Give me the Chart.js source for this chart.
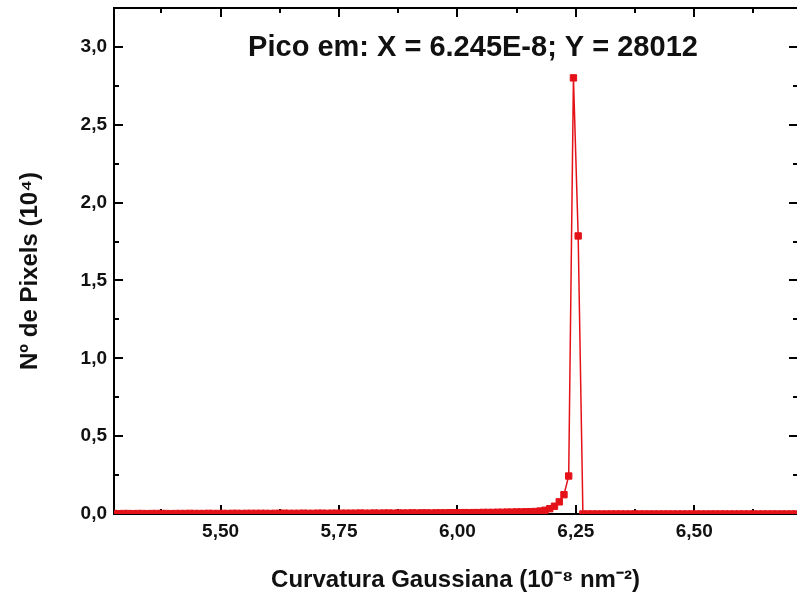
<!DOCTYPE html>
<html>
<head>
<meta charset="utf-8">
<script src="https://cdn.jsdelivr.net/npm/chart.js@4"></script>
<style>
  html, body { margin: 0; padding: 0; background: #fff; overflow: hidden; }
  #wrap { width: 797px; height: 600px; }
</style>
</head>
<body>
<div id="wrap"><canvas id="chHisto" width="797" height="600"></canvas></div>
<script>
// =========================
// DATA
// =========================
// centro de cada bin, em 10^-8 nm^-2
const curvatura = [
  5.275,5.285,5.295,5.305,5.315,5.325,5.335,5.345,5.355,5.365,
  5.375,5.385,5.395,5.405,5.415,5.425,5.435,5.445,5.455,5.465,
  5.475,5.485,5.495,5.505,5.515,5.525,5.535,5.545,5.555,5.565,
  5.575,5.585,5.595,5.605,5.615,5.625,5.635,5.645,5.655,5.665,
  5.675,5.685,5.695,5.705,5.715,5.725,5.735,5.745,5.755,5.765,
  5.775,5.785,5.795,5.805,5.815,5.825,5.835,5.845,5.855,5.865,
  5.875,5.885,5.895,5.905,5.915,5.925,5.935,5.945,5.955,5.965,
  5.975,5.985,5.995,6.005,6.015,6.025,6.035,6.045,6.055,6.065,
  6.075,6.085,6.095,6.105,6.115,6.125,6.135,6.145,6.155,6.165,
  6.175,6.185,6.195,6.205,6.215,6.225,6.235,6.245,6.255,6.265,
  6.275,6.285,6.295,6.305,6.315,6.325,6.335,6.345,6.355,6.365,
  6.375,6.385,6.395,6.405,6.415,6.425,6.435,6.445,6.455,6.465,
  6.475,6.485,6.495,6.505,6.515,6.525,6.535,6.545,6.555,6.565,
  6.575,6.585,6.595,6.605,6.615,6.625,6.635,6.645,6.655,6.665,
  6.675,6.685,6.695,6.705,6.715
];

// nº de pixels, em 10^4
const pixels = [
  0.003,0.002,0.003,0.003,0.002,0.003,0.003,0.002,0.003,0.003,
  0.003,0.003,0.002,0.003,0.003,0.003,0.004,0.003,0.003,0.003,
  0.004,0.003,0.003,0.004,0.003,0.004,0.004,0.003,0.004,0.004,
  0.004,0.004,0.004,0.003,0.004,0.004,0.005,0.004,0.004,0.004,
  0.005,0.004,0.004,0.005,0.005,0.004,0.005,0.005,0.005,0.005,
  0.005,0.005,0.006,0.005,0.005,0.006,0.005,0.006,0.006,0.005,
  0.006,0.006,0.006,0.007,0.006,0.007,0.007,0.006,0.007,0.007,
  0.007,0.008,0.008,0.008,0.009,0.008,0.009,0.009,0.010,0.010,
  0.010,0.011,0.011,0.012,0.012,0.013,0.013,0.014,0.015,0.016,
  0.019,0.024,0.034,0.050,0.078,0.124,0.244,2.8012,1.786,0,
  0,0,0,0,0,0,0,0,0,0,
  0,0,0,0,0,0,0,0,0,0,
  0,0,0,0,0,0,0,0,0,0,
  0,0,0,0,0,0,0,0,0,0,
  0,0,0,0,0
];

const xMajor = [5.50, 5.75, 6.00, 6.25, 6.50];
const xMinor = [5.375, 5.625, 5.875, 6.125, 6.375, 6.625];
const yMajor = [0.0, 0.5, 1.0, 1.5, 2.0, 2.5, 3.0];
const yMinor = [0.25, 0.75, 1.25, 1.75, 2.25, 2.75];

const tituloPico = 'Pico em: X = 6.245E-8; Y = 28012';

// =========================
// Config comum
// =========================
const fam = "'Liberation Sans', Arial, sans-serif";
const vermelho = 'rgb(228,18,24)';

// moldura superior + ticks para dentro (o eixo direito fica fora do recorte)
const molduraTicks = {
  id: 'molduraTicks',
  beforeDatasetsDraw(chart) {
    const { ctx, chartArea: a, scales: { x, y } } = chart;
    ctx.save();
    ctx.strokeStyle = '#000';
    ctx.lineWidth = 2;
    ctx.beginPath();
    ctx.moveTo(a.left, a.top); ctx.lineTo(a.right + 2, a.top);
    ctx.stroke();

    const rightEdge = a.right + 2;
    const xt = (v, len) => {
      const px = Math.round(x.getPixelForValue(v));
      ctx.moveTo(px, a.bottom); ctx.lineTo(px, a.bottom - len);
      ctx.moveTo(px, a.top); ctx.lineTo(px, a.top + len);
    };
    const yt = (v, len) => {
      const py = Math.round(y.getPixelForValue(v));
      ctx.moveTo(a.left, py); ctx.lineTo(a.left + len, py);
      ctx.moveTo(rightEdge, py); ctx.lineTo(rightEdge - len - 1, py);
    };
    ctx.beginPath();
    xMajor.forEach(v => xt(v, 9));
    xMinor.forEach(v => xt(v, 5));
    yMajor.forEach(v => yt(v, 9));
    yMinor.forEach(v => yt(v, 5));
    ctx.stroke();
    ctx.restore();
  },
  afterDraw(chart) {
    const { ctx } = chart;
    ctx.save();
    ctx.fillStyle = '#111';
    ctx.font = `bold 29px ${fam}`;
    ctx.textAlign = 'center';
    ctx.textBaseline = 'middle';
    ctx.fillText(tituloPico, 473, 48);
    ctx.restore();
  }
};

new Chart(document.getElementById('chHisto'), {
  type: 'line',
  data: {
    datasets: [{
      label: 'Nº de Pixels',
      data: curvatura.map((c, i) => ({ x: c, y: pixels[i] })),
      borderColor: vermelho,
      backgroundColor: vermelho,
      borderWidth: 1.5,
      pointStyle: 'rect',
      pointRadius: 4.5,
      pointBorderWidth: 1,
      tension: 0
    }]
  },
  options: {
    responsive: false,
    animation: false,
    layout: { autoPadding: false, padding: { left: 0, top: 8, right: 0, bottom: 0 } },
    plugins: { legend: { display: false }, tooltip: { enabled: false } },
    scales: {
      x: {
        type: 'linear',
        min: 5.275,
        max: 6.717,
        afterBuildTicks: s => { s.ticks = xMajor.map(v => ({ value: v })); },
        afterFit: s => { s.height = 86; s.paddingLeft = 0; s.paddingRight = 0; },
        grid: { display: false, drawTicks: false },
        border: { display: true, color: '#000', width: 2 },
        ticks: {
          color: '#111',
          padding: 6,
          font: { family: fam, size: 19, weight: 'bold' },
          callback: v => v.toFixed(2).replace('.', ',')
        },
        title: {
          display: true,
          text: 'Curvatura Gaussiana (10⁻⁸ nm⁻²)',
          color: '#111',
          padding: { top: 0, bottom: 5 },
          font: { family: fam, size: 24, weight: 'bold' }
        }
      },
      y: {
        min: 0,
        max: 3.25,
        afterBuildTicks: s => { s.ticks = yMajor.map(v => ({ value: v })); },
        afterFit: s => { s.width = 114; s.paddingTop = 0; s.paddingBottom = 0; },
        grid: { display: false, drawTicks: false },
        border: { display: true, color: '#000', width: 2 },
        ticks: {
          color: '#111',
          padding: 7,
          font: { family: fam, size: 19, weight: 'bold' },
          callback: v => v.toFixed(1).replace('.', ',')
        },
        title: {
          display: true,
          text: 'Nº de Pixels (10⁴)   ',
          color: '#111',
          padding: { top: 16, bottom: 0 },
          font: { family: fam, size: 24, weight: 'bold' }
        }
      }
    }
  },
  plugins: [molduraTicks]
});
</script>
</body>
</html>
